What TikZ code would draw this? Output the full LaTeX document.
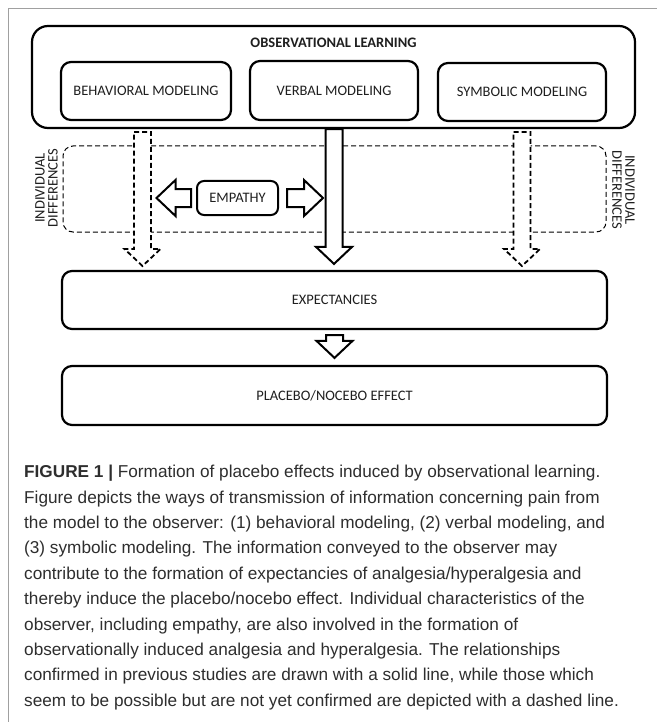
\documentclass[tikz,border=0pt]{standalone}
\usepackage{fontspec}
\setmainfont{Liberation Sans}
\newfontfamily\diafont{Carlito}
\usetikzlibrary{calc}
\definecolor{capgray}{HTML}{2E2E2E}
\definecolor{framegray}{HTML}{A0A0A0}
\newcommand\varrowblk[3]{%
  \path[#1] let \p1=(#2), \p2=(#3) in
  (\x2-8.5pt,\y1) -- (\x2+8.5pt,\y1) -- (\x2+8.5pt,\y2+17pt) -- (\x2+18pt,\y2+17pt)
  -- (\x2,\y2) -- (\x2-18pt,\y2+17pt) -- (\x2-8.5pt,\y2+17pt) -- cycle;}
\newcommand\larrowblk[3]{%
  \path[#1] let \p1=(#2), \p2=(#3) in
  (\x1,\y2-9pt) -- (\x1,\y2+9pt) -- (\x2+19pt,\y2+9pt) -- (\x2+19pt,\y2+18pt)
  -- (\x2,\y2) -- (\x2+19pt,\y2-18pt) -- (\x2+19pt,\y2-9pt) -- cycle;}
\newcommand\rarrowblk[3]{%
  \path[#1] let \p1=(#2), \p2=(#3) in
  (\x1,\y2-9pt) -- (\x1,\y2+9pt) -- (\x2-19pt,\y2+9pt) -- (\x2-19pt,\y2+18pt)
  -- (\x2,\y2) -- (\x2-19pt,\y2-18pt) -- (\x2-19pt,\y2-9pt) -- cycle;}
\begin{document}
\begin{tikzpicture}[x=1pt,y=-1pt,
  box/.style={draw, line width=2.2pt, rounded corners=10pt, inner sep=0pt, align=center,
    font=\diafont\fontsize{14.5}{16}\selectfont, text=black!88},
  lbl/.style={inner sep=0pt, align=center, font=\diafont\fontsize{14.5}{13}\selectfont, text=black!88},
  solidarrow/.style={draw, fill=white, line width=2pt, miter limit=10},
  dasharrow/.style={draw, fill=white, line width=1.8pt, dash pattern=on 5pt off 3pt},
  region/.style={draw, line width=1pt, rounded corners=10pt, dash pattern=on 5pt off 3pt}
]
\useasboundingbox (0,0) rectangle (657,722);
\fill[white] (0,0) rectangle (657,722);
\draw[framegray, line width=1pt] (8,722) -- (8,9) -- (657,9);

\node[box, rounded corners=16pt, minimum width=603pt, minimum height=102pt] (obs) at (333.5,77) {};
\node[lbl, font=\diafont\bfseries\fontsize{14.5}{16}\selectfont] (obstitle) at (333.5,43) {OBSERVATIONAL LEARNING};
\node[box, minimum width=170pt, minimum height=58pt] (beh) at (146,91) {BEHAVIORAL MODELING};
\node[box, minimum width=168pt, minimum height=59pt] (verb) at (334,90.5) {VERBAL MODELING};
\node[box, minimum width=168pt, minimum height=58pt] (sym) at (522,92) {SYMBOLIC MODELING};

\node[region, minimum width=543pt, minimum height=86pt, inner sep=0pt] (indiv) at (334.5,189) {};
\node[lbl, rotate=90] (indivL) at (46.5,188) {INDIVIDUAL\\DIFFERENCES};
\node[lbl, rotate=-90] (indivR) at (623.5,190) {INDIVIDUAL\\DIFFERENCES};

\node[box, line width=2pt, rounded corners=7pt, minimum width=81pt, minimum height=34pt] (emp) at (237.5,198) {EMPATHY};

\node[box, minimum width=545pt, minimum height=58pt] (expect) at (334.5,300) {EXPECTANCIES};
\node[box, minimum width=545pt, minimum height=59pt] (placebo) at (334.5,395.5) {PLACEBO/NOCEBO EFFECT};

\coordinate (bTop) at (142.5,132);
\coordinate (bTip) at (142.5,266);
\coordinate (sTop) at (sym.south |- bTop);
\coordinate (sTip) at (sym.south |- bTip);
\coordinate (vTop) at (verb.south |- obs.south);
\coordinate (vTip) at ($(verb.south |- expect.north)+(0,-6)$);
\coordinate (eTop) at ($(expect.south)+(0,5)$);
\coordinate (eTip) at ($(placebo.north)+(0,-7)$);
\coordinate (lStart) at ($(emp.west)+(-5,0)$);
\coordinate (lTip) at ($(emp.west)+(-39.5,0)$);
\coordinate (rStart) at ($(emp.east)+(8,0)$);
\coordinate (rTip) at ($(emp.east)+(44,0)$);

\varrowblk{dasharrow}{bTop}{bTip}
\varrowblk{dasharrow}{sTop}{sTip}
\varrowblk{solidarrow}{vTop}{vTip}
\varrowblk{solidarrow}{eTop}{eTip}
\larrowblk{solidarrow}{lStart}{lTip}
\rarrowblk{solidarrow}{rStart}{rTip}

\node[anchor=north west, inner sep=0pt, align=left, text=capgray,
  font=\fontsize{17.2}{25.4}\selectfont] (cap) at (24,465) {%
\textbf{FIGURE 1 |} Formation of placebo effects induced by observational learning.\\
Figure depicts the ways of transmission of information concerning pain from\\
the model to the observer: (1) behavioral modeling, (2) verbal modeling, and\\
(3) symbolic modeling. The information conveyed to the observer may\\
contribute to the formation of expectancies of analgesia/hyperalgesia and\\
thereby induce the placebo/nocebo effect. Individual characteristics of the\\
observer, including empathy, are also involved in the formation of\\
observationally induced analgesia and hyperalgesia. The relationships\\
confirmed in previous studies are drawn with a solid line, while those which\\
seem to be possible but are not yet confirmed are depicted with a dashed line.};
\end{tikzpicture}
\end{document}
